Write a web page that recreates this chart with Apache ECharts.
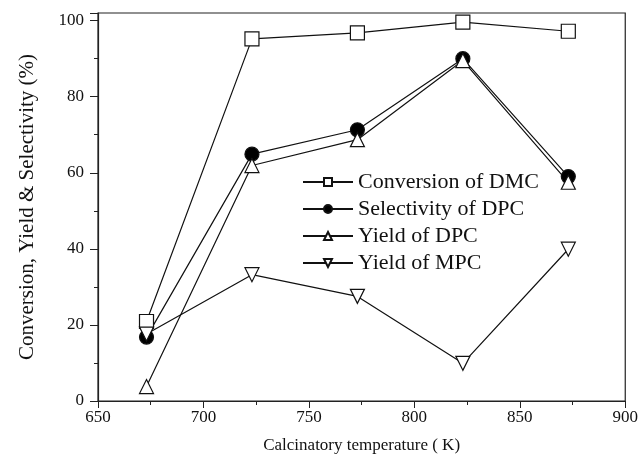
<!DOCTYPE html>
<html lang="en">
<head>
  <meta charset="UTF-8">
  <title>Calcinatory temperature</title>
  <script src="https://cdn.jsdelivr.net/npm/echarts@6/dist/echarts.min.js"></script>
</head>
<body style="margin:0">
  <div id="chart" style="width: 641px;height: 465px;"></div>
</body>
<script>
  var temps = [673, 723, 773, 823, 873]
  var convDMC = [20.9, 95.2, 96.8, 99.6, 97.2]
  var selDPC = [16.8, 64.9, 71.3, 90.0, 59.0]
  var yieldDPC = [3.8, 61.9, 68.7, 89.5, 57.5]
  var yieldMPC = [17.6, 33.2, 27.5, 9.9, 39.9]

  var font = 'Liberation Serif, Times New Roman, serif'

  function pairs(vals) {
    return temps.map(function (t, i) { return [t, vals[i]] })
  }

  function makeSeries(name, vals, symbol, rotate, fill) {
    return {
      name: name,
      type: 'line',
      data: pairs(vals),
      symbol: symbol,
      symbolSize: 14,
      symbolRotate: rotate,
      showAllSymbol: true,
      lineStyle: { color: '#111', width: 1.2 },
      itemStyle: { color: fill, borderColor: '#111', borderWidth: 1.2 }
    }
  }

  var charts = echarts.init(document.getElementById('chart'))
  var option = {
    backgroundColor: '#fff',
    animation: false,
    textStyle: { fontFamily: font },
    grid: {
      left: 98, right: 15, top: 13, bottom: 64,
      show: true, borderColor: '#222', borderWidth: 1.2
    },
    legend: {
      orient: 'vertical',
      left: 297, top: 166,
      itemWidth: 50, itemHeight: 10,
      itemGap: 5,
      textStyle: { fontFamily: font, fontSize: 22, color: '#111' },
      data: ['Conversion of DMC', 'Selectivity of DPC', 'Yield of DPC', 'Yield of MPC']
    },
    xAxis: {
      type: 'value',
      min: 650, max: 900, interval: 50,
      name: 'Calcinatory temperature ( K)',
      nameLocation: 'middle', nameGap: 36,
      nameTextStyle: { fontFamily: font, fontSize: 17, color: '#111' },
      axisLine: { lineStyle: { color: '#222', width: 1.2 } },
      axisTick: { length: 7, lineStyle: { color: '#222' } },
      minorTick: { show: true, splitNumber: 2, length: 4, lineStyle: { color: '#222' } },
      axisLabel: { fontFamily: font, fontSize: 17, color: '#111', margin: 8 },
      splitLine: { show: false }
    },
    yAxis: {
      type: 'value',
      min: 0, max: 102, interval: 20,
      name: 'Conversion, Yield & Selectivity (%)',
      nameLocation: 'middle', nameGap: 60,
      nameTextStyle: { fontFamily: font, fontSize: 21, color: '#111' },
      axisLine: { lineStyle: { color: '#222', width: 1.2 } },
      axisTick: { length: 8, lineStyle: { color: '#222' } },
      minorTick: { show: true, splitNumber: 2, length: 4, lineStyle: { color: '#222' } },
      axisLabel: {
        fontFamily: font, fontSize: 17, color: '#111', margin: 14, showMaxLabel: false,
        formatter: function (v) { return v % 20 === 0 ? v : '' }
      },
      splitLine: { show: false }
    },
    series: [
      makeSeries('Conversion of DMC', convDMC, 'rect', 0, '#fff'),
      makeSeries('Selectivity of DPC', selDPC, 'circle', 0, '#000'),
      makeSeries('Yield of DPC', yieldDPC, 'triangle', 0, '#fff'),
      makeSeries('Yield of MPC', yieldMPC, 'triangle', 180, '#fff')
    ]
  }
  charts.setOption(option)
</script>
</html>
